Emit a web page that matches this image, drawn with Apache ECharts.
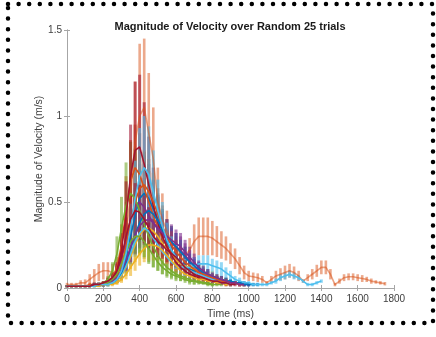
<!DOCTYPE html>
<html>
<head>
<meta charset="utf-8">
<script src="https://cdn.jsdelivr.net/npm/echarts@6.0.0/dist/echarts.min.js"></script>
<style>
  html, body { margin: 0; padding: 0; background: #fff; }
  #chart { width: 436px; height: 337px; }
</style>
</head>
<body>
<div id="chart"></div>
<script>
// sample times (ms), shared by all trials
const timeMs = [0,25,50,75,100,125,150,175,200,225,250,275,300,325,350,375,400,425,450,475,
  500,525,550,575,600,625,650,675,700,725,750,775,800,825,850,875,900,925,950,975,
  1000,1025,1050,1075,1100,1125,1150,1175,1200,1225,1250,1275,1300,1325,1350,1375,1400,1425,1450,1475,
  1500,1525,1550,1575,1600,1625,1650,1675,1700,1725,1750];

const xTicks = [0,200,400,600,800,1000,1200,1400,1600,1800];
const yTicks = [0,0.5,1,1.5];

// long trial (light orange, big error bars)
const meanLong = [.02,.02,.02,.03,.03,.05,.07,.09,.1,.1,.09,.08,.15,.3,.55,.85,1.0,1.05,.9,.75,
  .5,.4,.33,.27,.23,.2,.19,.22,.27,.3,.3,.3,.29,.27,.25,.23,.2,.17,.13,.09,
  .07,.065,.06,.05,.03,.05,.07,.08,.09,.1,.09,.07,.04,.06,.08,.1,.12,.12,.08,.02,
  .04,.06,.065,.065,.06,.055,.05,.04,.035,.03,.025];
const errLong = [.01,.01,.01,.015,.02,.03,.04,.05,.05,.05,.05,.05,.1,.2,.3,.35,.42,.4,.35,.3,
  .2,.15,.12,.09,.07,.06,.05,.07,.1,.11,.11,.11,.1,.09,.08,.07,.06,.06,.05,.04,
  .03,.025,.025,.02,.01,.02,.03,.035,.04,.04,.035,.03,.01,.02,.03,.035,.04,.04,.03,.01,
  .015,.02,.02,.02,.02,.02,.015,.015,.01,.01,.01];

const meanT1 = [.01,.01,.01,.01,.01,.01,.02,.02,.02,.03,.04,.06,.10,.18,.30,.42,.52,.55,.52,.46,.40,.33,.27,.22,.18,.15,.13,.11,.10,.09,.08,.07,.06,.05,.05,.04,.04,.03,.03,.03,.02,.02,.02];
const errT1 = [.005,.005,.005,.005,.005,.005,.01,.01,.01,.01,.02,.03,.05,.08,.12,.16,.2,.22,.2,.17,.15,.12,.1,.08,.07,.06,.05,.04,.04,.03,.03,.03,.02,.02,.02,.02,.01,.01,.01,.01,.01,.01,.01];

const meanT2 = [.01,.01,.01,.01,.01,.02,.02,.02,.03,.04,.06,.12,.25,.45,.62,.70,.66,.58,.50,.42,.35,.29,.24,.2,.17,.14,.12,.1,.09,.08,.07,.06,.05,.05,.04,.04,.03,.03,.02,.02];
const errT2 = [.005,.005,.005,.005,.005,.01,.01,.01,.01,.02,.03,.06,.12,.2,.24,.25,.24,.21,.18,.15,.12,.1,.08,.07,.06,.05,.04,.04,.03,.03,.03,.02,.02,.02,.02,.01,.01,.01,.01,.01];

const meanT3 = [.01,.01,.01,.01,.01,.01,.01,.02,.02,.02,.03,.04,.07,.12,.18,.25,.31,.34,.35,.33,.3,.26,.22,.19,.16,.14,.13,.12,.11,.1,.09,.08,.07,.06,.05,.04,.03,.03,.02,.02];
const errT3 = [.005,.005,.005,.005,.005,.005,.005,.01,.01,.01,.01,.02,.03,.05,.07,.1,.12,.13,.13,.12,.11,.1,.08,.07,.06,.05,.05,.05,.04,.04,.04,.03,.03,.02,.02,.02,.01,.01,.01,.01];

const meanT4 = [.01,.01,.01,.01,.01,.01,.02,.02,.02,.03,.05,.09,.17,.28,.4,.48,.5,.47,.42,.38,.34,.31,.28,.26,.24,.22,.19,.16,.13,.1,.08,.07,.06,.05,.04,.04,.03,.03,.02,.02,.02];
const errT4 = [.005,.005,.005,.005,.005,.005,.01,.01,.01,.01,.02,.04,.07,.1,.14,.17,.18,.17,.15,.13,.12,.11,.1,.09,.08,.08,.07,.06,.05,.04,.03,.03,.02,.02,.02,.02,.01,.01,.01,.01,.01];

const meanT5 = [.01,.01,.01,.01,.01,.01,.02,.02,.03,.05,.1,.2,.35,.48,.55,.52,.45,.37,.3,.24,.19,.15,.12,.1,.08,.07,.06,.05,.04,.04,.03,.03,.02,.02,.02];
const errT5 = [.005,.005,.005,.005,.005,.005,.01,.01,.01,.02,.05,.1,.18,.25,.3,.29,.25,.2,.16,.12,.09,.07,.05,.04,.03,.03,.02,.02,.02,.01,.01,.01,.01,.01,.01];

const meanT6 = [.01,.01,.01,.01,.01,.01,.01,.01,.02,.02,.03,.05,.08,.13,.2,.27,.32,.35,.33,.29,
  .25,.21,.18,.15,.13,.12,.12,.12,.13,.14,.14,.14,.13,.12,.11,.09,.07,.05,.04,.03,
  .03,.02,.02,.02,.02,.03,.04,.06,.07,.08,.07,.06,.04,.02,.02,.03,.04];
const errT6 = [.005,.005,.005,.005,.005,.005,.005,.005,.01,.01,.01,.02,.03,.05,.07,.09,.11,.12,.11,.1,
  .08,.07,.06,.05,.05,.05,.05,.05,.05,.05,.05,.05,.04,.04,.04,.03,.03,.02,.02,.01,
  .01,.01,.01,.01,.01,.01,.015,.02,.02,.02,.02,.015,.01,.01,.01,.01,.01];

const meanT7 = [.01,.01,.01,.01,.01,.01,.02,.02,.02,.03,.05,.1,.22,.42,.65,.8,.82,.72,.6,.48,.38,.3,.24,.19,.15,.12,.1,.08,.07,.06,.05,.04,.04,.03,.03,.02,.02];
const errT7 = [.005,.005,.005,.005,.005,.005,.01,.01,.01,.01,.02,.05,.1,.2,.3,.4,.42,.36,.28,.22,.16,.12,.1,.08,.06,.05,.04,.03,.03,.02,.02,.02,.02,.01,.01,.01,.01];

const meanT8 = [.01,.01,.01,.01,.01,.01,.01,.02,.02,.02,.03,.05,.09,.15,.23,.31,.38,.43,.45,.43,.39,.34,.3,.27,.24,.21,.18,.15,.13,.11,.09,.08,.07,.06,.05,.04,.04,.03,.03,.02,.02];
const errT8 = [.005,.005,.005,.005,.005,.005,.005,.01,.01,.01,.01,.02,.04,.06,.09,.12,.14,.16,.17,.16,.14,.12,.1,.09,.08,.07,.06,.05,.04,.04,.03,.03,.02,.02,.02,.02,.01,.01,.01,.01,.01];

const meanT9 = [.01,.01,.01,.01,.01,.01,.01,.02,.02,.03,.04,.07,.13,.24,.38,.5,.58,.6,.56,.5,.43,.36,.3,.25,.21,.18,.15,.13,.11,.09,.08,.07,.06,.05,.04,.04,.03,.03,.02];
const errT9 = [.005,.005,.005,.005,.005,.005,.005,.01,.01,.01,.02,.03,.06,.1,.15,.18,.2,.2,.19,.17,.15,.12,.1,.08,.07,.06,.05,.04,.04,.03,.03,.02,.02,.02,.02,.01,.01,.01,.01];

const meanT10 = [.01,.01,.01,.01,.01,.01,.01,.01,.02,.02,.02,.03,.05,.08,.12,.16,.2,.23,.25,.25,.24,.22,.19,.16,.13,.1,.08,.07,.06,.05,.05,.04,.04,.03,.03,.02,.02];
const errT10 = [.005,.005,.005,.005,.005,.005,.005,.005,.01,.01,.01,.01,.02,.03,.05,.06,.07,.08,.09,.09,.08,.08,.07,.06,.05,.04,.03,.03,.02,.02,.02,.02,.02,.01,.01,.01,.01];

const meanT11 = [.01,.01,.01,.01,.01,.01,.02,.02,.02,.03,.04,.06,.1,.16,.24,.31,.36,.39,.4,.38,.35,.32,.3,.28,.26,.24,.21,.18,.15,.12,.1,.08,.07,.06,.05,.04,.03,.03,.02,.02];
const errT11 = [.005,.005,.005,.005,.005,.005,.01,.01,.01,.01,.02,.03,.04,.06,.09,.11,.13,.14,.14,.13,.12,.11,.1,.09,.08,.08,.07,.06,.05,.04,.03,.03,.02,.02,.02,.01,.01,.01,.01,.01];

const meanT12 = [.01,.01,.01,.01,.01,.01,.01,.02,.02,.03,.05,.08,.14,.21,.27,.3,.3,.27,.23,.19,.15,.12,.1,.08,.07,.06,.05,.04,.04,.03,.03,.02,.02];
const errT12 = [.005,.005,.005,.005,.005,.005,.005,.01,.01,.01,.02,.03,.05,.07,.09,.1,.1,.09,.08,.07,.05,.04,.04,.03,.03,.02,.02,.02,.02,.01,.01,.01,.01];

const meanT13 = [.01,.01,.01,.01,.01,.01,.01,.02,.02,.02,.03,.05,.1,.2,.35,.52,.65,.7,.66,.56,.45,.36,.28,.22,.18,.15,.12,.1,.09,.08,.07,.06,.05,.04,.03,.03,.02];
const errT13 = [.005,.005,.005,.005,.005,.005,.005,.01,.01,.01,.01,.02,.04,.08,.14,.22,.28,.3,.28,.24,.18,.14,.1,.08,.07,.06,.05,.04,.04,.03,.03,.02,.02,.02,.01,.01,.01];

const meanT14 = [.01,.01,.01,.01,.01,.01,.02,.02,.03,.04,.06,.1,.18,.3,.4,.45,.44,.4,.35,.3,.27,.25,.22,.2,.18,.15,.12,.1,.08,.07,.06,.05,.04,.04,.03,.03,.02,.02];
const errT14 = [.005,.005,.005,.005,.005,.005,.01,.01,.01,.02,.03,.04,.07,.11,.14,.16,.16,.14,.12,.1,.09,.08,.07,.07,.06,.05,.04,.03,.03,.02,.02,.02,.01,.01,.01,.01,.01,.01];

// matlab default colour order
const trialColors = ['#D95319','#0072BD','#D95319','#EDB120','#7E2F8E','#77AC30','#4DBEEE','#A2142F',
  '#0072BD','#D95319','#EDB120','#7E2F8E','#77AC30','#4DBEEE','#A2142F'];

const trials = [
  [meanLong, errLong], [meanT1, errT1], [meanT2, errT2], [meanT3, errT3], [meanT4, errT4],
  [meanT5, errT5], [meanT6, errT6], [meanT7, errT7], [meanT8, errT8], [meanT9, errT9],
  [meanT10, errT10], [meanT11, errT11], [meanT12, errT12], [meanT13, errT13], [meanT14, errT14]
];

function hexA(hex, a) {
  const n = parseInt(hex.slice(1), 16);
  return 'rgba(' + (n >> 16) + ',' + ((n >> 8) & 255) + ',' + (n & 255) + ',' + a + ')';
}

const series = [];
trials.forEach(function (tr, k) {
  const mean = tr[0], err = tr[1];
  const color = trialColors[k];
  const barColor = hexA(color, k === 0 ? 0.5 : 0.6);
  const barWidth = k === 0 ? 2.6 : 3;
  const pts = mean.map(function (v, i) { return [timeMs[i], v, err[i] || 0]; });
  series.push({
    type: 'custom',
    name: 'trial ' + (k + 1) + ' err',
    data: pts,
    encode: { x: 0, y: 1 },
    z: 2,
    renderItem: function (params, api) {
      const x = api.value(0), m = api.value(1), e = api.value(2);
      const lo = api.coord([x, Math.max(0, m - e)]);
      const hi = api.coord([x, m + e]);
      return {
        type: 'line',
        shape: { x1: lo[0], y1: lo[1], x2: hi[0], y2: hi[1] },
        style: { stroke: barColor, lineWidth: barWidth }
      };
    }
  });
  series.push({
    type: 'line',
    name: 'trial ' + (k + 1),
    data: pts.map(function (p) { return [p[0], p[1]]; }),
    showSymbol: false,
    z: 3,
    lineStyle: { color: k === 0 ? hexA(color, 0.55) : color, width: 1.6 },
    itemStyle: { color: color }
  });
});

const axisGray = '#a6a6a6';
const labelGray = '#404040';
const fontFam = 'Liberation Sans, Arial, sans-serif';

const chart = echarts.init(document.getElementById('chart'), null, { renderer: 'canvas' });
const option = {
  animation: false,
  backgroundColor: '#fff',
  title: {
    text: 'Magnitude of Velocity over Random 25 trials',
    left: 225, top: 16, textAlign: 'center',
    textStyle: { fontSize: 11, fontWeight: 'bold', color: '#1a1a1a', fontFamily: fontFam }
  },
  grid: { left: 67, right: 42, top: 30, bottom: 49 },
  xAxis: [{
    type: 'value', min: 0, max: 1800, interval: 200,
    name: 'Time (ms)', nameLocation: 'middle', nameGap: 20,
    nameTextStyle: { fontSize: 10.5, color: labelGray, fontFamily: fontFam },
    axisLine: { lineStyle: { color: axisGray } },
    axisTick: { inside: true, length: 3, lineStyle: { color: axisGray } },
    axisLabel: { fontSize: 10, color: labelGray, margin: 6, fontFamily: fontFam,
      formatter: function (v) { return xTicks.indexOf(v) >= 0 ? String(v) : ''; } },
    splitLine: { show: false }
  }, {
    type: 'value', position: 'top', min: 0, max: 1800, interval: 200,
    axisLine: { show: true, lineStyle: { color: axisGray } },
    axisTick: { inside: true, length: 3, lineStyle: { color: axisGray } },
    axisLabel: { show: false }, splitLine: { show: false }
  }],
  yAxis: [{
    type: 'value', min: 0, max: 1.5, interval: 0.5,
    name: 'Magnitude of Velocity (m/s)', nameLocation: 'middle', nameGap: 22,
    nameMoveOverlap: false,
    nameTextStyle: { fontSize: 10.5, color: labelGray, fontFamily: fontFam },
    axisLine: { show: true, lineStyle: { color: axisGray } },
    axisTick: { show: true, inside: true, length: 3, lineStyle: { color: axisGray } },
    axisLabel: { fontSize: 10, color: labelGray, margin: 5, fontFamily: fontFam,
      formatter: function (v) { return yTicks.indexOf(v) >= 0 ? String(v) : ''; } },
    splitLine: { show: false }
  }, {
    type: 'value', position: 'right', min: 0, max: 1.5, interval: 0.5,
    axisLine: { show: true, lineStyle: { color: axisGray } },
    axisTick: { show: true, inside: true, length: 3, lineStyle: { color: axisGray } },
    axisLabel: { show: false }, splitLine: { show: false }
  }],
  graphic: [
    {
      type: 'rect', silent: true,
      shape: { x: 8, y: 4, width: 425, height: 319 },
      style: { fill: 'none', stroke: '#000', lineWidth: 4.5, lineDash: [0, 10.6], lineCap: 'round' }
    },
    {
      type: 'text', silent: true, left: 'center', top: 336,
      style: { text: 'Figure 6: Magnitude of Velocity over 25 trials', font: 'bold 13px ' + fontFam, fill: '#999', textVerticalAlign: 'top' }
    }
  ],
  series: series
};
chart.setOption(option);
</script>
</body>
</html>
